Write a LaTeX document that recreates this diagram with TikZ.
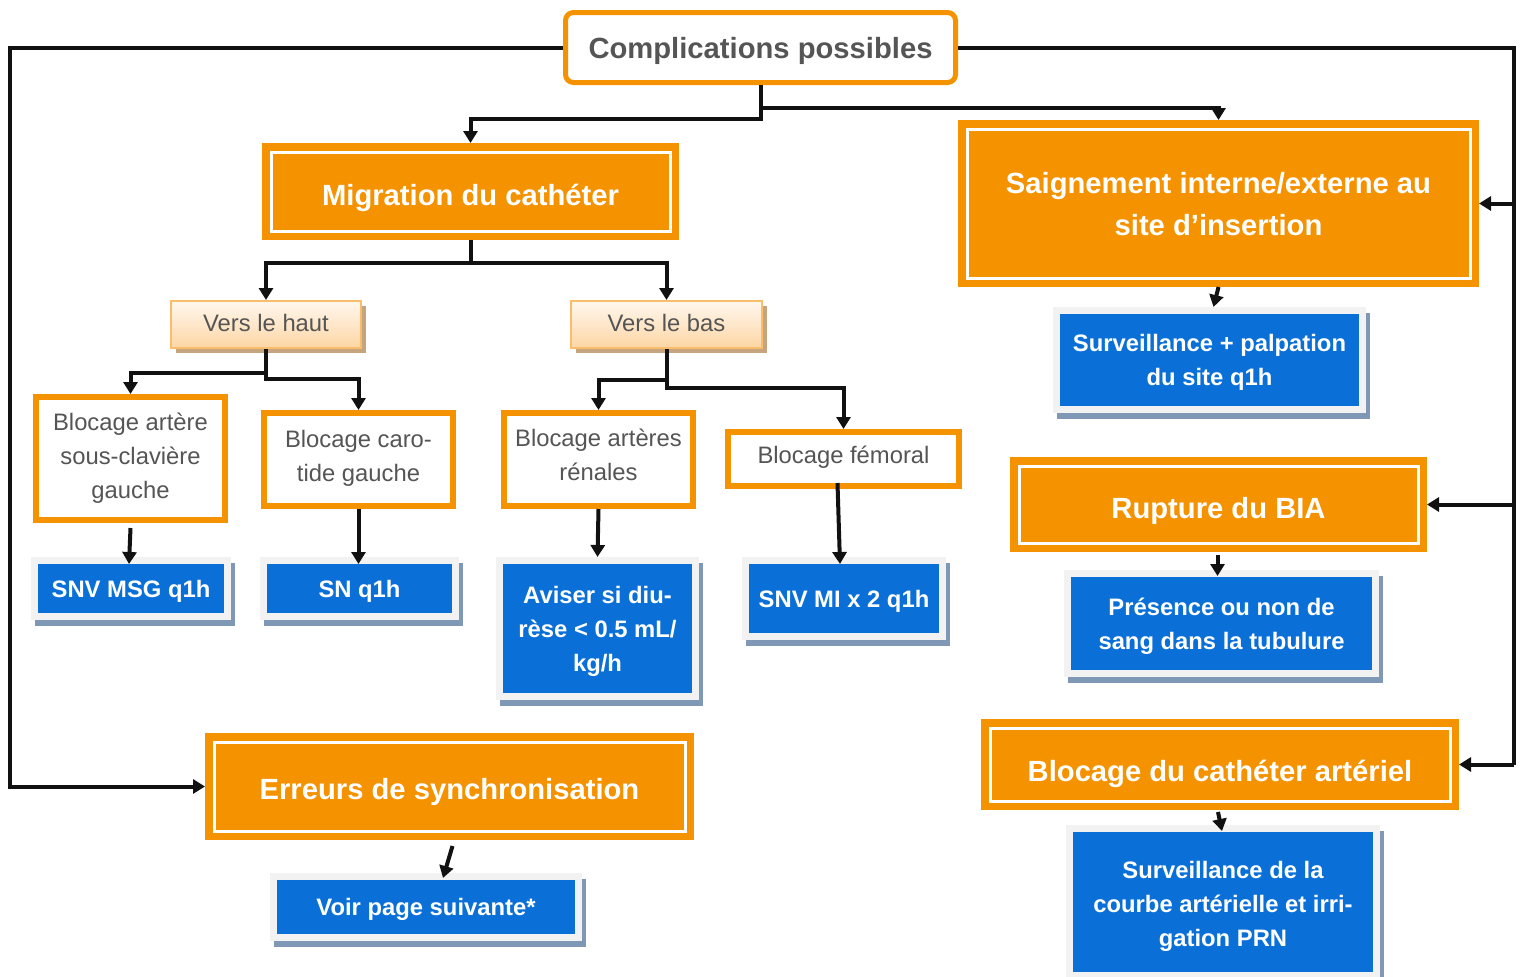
\documentclass[tikz,border=0pt]{standalone}
\usepackage{fontspec}
\setmainfont{Liberation Sans}
\usetikzlibrary{arrows.meta,shadows}
\definecolor{org}{HTML}{F59200}
\definecolor{bluec}{HTML}{0A70D8}
\definecolor{framegrey}{HTML}{F2F2F2}
\definecolor{bshadow}{HTML}{7F98B5}
\definecolor{tgrey}{HTML}{555555}
\definecolor{vtop}{HTML}{FFF7EE}
\definecolor{vbot}{HTML}{FDD6A4}
\definecolor{vborder}{HTML}{F9BE6C}
\definecolor{vshadow}{HTML}{C5A47E}
\definecolor{lc}{HTML}{111111}
\newcommand\bigb{\fontsize{29.2}{42}\selectfont\bfseries}
\newcommand\smb{\fontsize{23.8}{34}\selectfont\bfseries}
\newcommand\smr{\fontsize{23.8}{34}\selectfont}
\newcommand\dn[2]{\raisebox{-#1}[\height][\depth]{\begin{tabular}{@{}c@{}}#2\end{tabular}}}
\begin{document}
\begin{tikzpicture}[x=1pt,y=-1pt,
  obox/.style={fill=org, inner sep=0pt, outer sep=0pt, text=white, font=\bigb,
    path picture={\draw[white,line width=3pt] ([shift={(9pt,-9pt)}]path picture bounding box.north west) rectangle ([shift={(-9pt,9pt)}]path picture bounding box.south east);}},
  wbox/.style={draw=org, line width=6pt, fill=white, inner sep=0pt, text=tgrey, font=\smr},
  vbox/.style={draw=vborder, line width=2pt, top color=vtop, bottom color=vbot, inner sep=0pt, font=\smr, text=tgrey,
    drop shadow={shadow xshift=5pt, shadow yshift=-5pt, fill=vshadow, opacity=1}},
  bbox/.style={fill=framegrey, inner sep=0pt, outer sep=0pt, text=white, font=\smb,
    drop shadow={shadow xshift=4pt, shadow yshift=-6pt, fill=bshadow, opacity=1},
    path picture={\fill[bluec] ([shift={(7pt,-7pt)}]path picture bounding box.north west) rectangle ([shift={(-7pt,7pt)}]path picture bounding box.south east);}},
  conn/.style={draw=lc, line width=4pt},
  arr/.style={conn, -{Triangle[width=14pt,length=12pt]}}
]
\useasboundingbox (0,0) rectangle (1526,977);

% top
\node[draw=org, line width=5pt, fill=white, rounded corners=8pt, minimum width=390pt, minimum height=70pt, inner sep=0pt,
  text=tgrey, font=\bigb] (top) at (760.5,47.5) {\dn{3pt}{Complications possibles}};

% orange double boxes
\node[obox, minimum width=417pt, minimum height=97pt] (mig) at (470.5,191.5) {\dn{6pt}{Migration du cathéter}};
\node[obox, minimum width=521pt, minimum height=167pt] (sai) at (1218.5,203.5) {\dn{3pt}{Saignement interne/externe au\\site d’insertion}};
\node[obox, minimum width=417pt, minimum height=95pt] (rup) at (1218.5,504.5) {\dn{6pt}{Rupture du BIA}};
\node[obox, minimum width=478pt, minimum height=91pt] (blk) at (1220,764.5) {\dn{9pt}{Blocage du cathéter artériel}};
\node[obox, minimum width=489pt, minimum height=107pt] (err) at (449.5,786.5) {\dn{5pt}{Erreurs de synchronisation}};

% vers
\node[vbox, minimum width=190pt, minimum height=47pt] (haut) at (266,324.5) {\dn{0pt}{Vers le haut}};
\node[vbox, minimum width=191pt, minimum height=47pt] (bas) at (666.5,324.5) {\dn{0pt}{Vers le bas}};

% white boxes
\node[wbox, minimum width=189pt, minimum height=123pt] (bart) at (130.5,458.5) {\dn{-1pt}{Blocage artère\\sous-clavière\\gauche}};
\node[wbox, minimum width=189pt, minimum height=93pt] (bcar) at (358.5,459.5) {\dn{-2pt}{Blocage caro-\\tide gauche}};
\node[wbox, minimum width=189pt, minimum height=93pt] (bren) at (598.5,459.5) {\dn{-3pt}{Blocage artères\\rénales}};
\node[wbox, minimum width=231pt, minimum height=54pt] (bfem) at (843.5,459) {\dn{-2pt}{Blocage fémoral}};

% blue boxes
\node[bbox, minimum width=200pt, minimum height=63pt] (snv) at (131,588.5) {\dn{2pt}{SNV MSG q1h}};
\node[bbox, minimum width=199pt, minimum height=63pt] (sn) at (359.5,588.5) {\dn{2pt}{SN q1h}};
\node[bbox, minimum width=203pt, minimum height=143pt] (avi) at (597.5,628.5) {\dn{2pt}{Aviser si diu-\\rèse < 0.5 mL/\\kg/h}};
\node[bbox, minimum width=204pt, minimum height=83pt] (mi) at (844,598.5) {\dn{2pt}{SNV MI x 2 q1h}};
\node[bbox, minimum width=312pt, minimum height=68pt] (voir) at (426,907) {\dn{2pt}{Voir page suivante*}};
\node[bbox, minimum width=313pt, minimum height=106pt] (surv) at (1209.5,360) {\dn{2pt}{Surveillance + palpation\\du site q1h}};
\node[bbox, minimum width=315pt, minimum height=107pt] (pres) at (1221.5,623.5) {\dn{2pt}{Présence ou non de\\sang dans la tubulure}};
\node[bbox, minimum width=314pt, minimum height=154pt] (surv2) at (1223,902) {\dn{4pt}{\fontsize{23.8}{34.5}\selectfont Surveillance de la\\courbe artérielle et irri-\\gation PRN}};

\coordinate (lc) at (10,0);
\coordinate (rc) at (1514,0);

% connectors
\draw[arr] (top.west) -- (top.west -| lc) |- (err.west);
\draw[conn] (top.east) -- (top.east -| rc) -- (blk.east -| rc);
\draw[arr] (sai.east -| rc) -- (sai.east);
\draw[arr] (rup.east -| rc) -- (rup.east);
\draw[arr] (blk.east -| rc) -- (blk.east);

\draw[arr] (top.south) -- ++(0,34) -| (mig.north);
\draw[arr] (top.south) ++(0,23) -| (sai.north);

\draw[arr] (mig.south) -- ++(0,23) -| (haut.north);
\draw[arr] (mig.south) ++(0,23) -| (bas.north);

\draw[arr] (haut.south) -- ++(0,24) -| (bart.north);
\draw[arr] (haut.south) ++(0,23) -- ++(0,7) -| (bcar.north);
\draw[arr] (bas.south) -- ++(0,31) -| (bren.north);
\draw[arr] (bas.south) ++(0,30) -- ++(0,9) -| (bfem.north);

\draw[arr] ([yshift=-5pt]bart.south) -- ([xshift=-2pt,yshift=-7pt]snv.north);
\draw[arr] (bcar.south) -- ([xshift=-1pt,yshift=-7pt]sn.north);
\draw[arr] (bren.south) -- (avi.north);
\draw[arr] ([xshift=-6pt,yshift=6pt]bfem.south) -- ([xshift=-4pt,yshift=-7pt]mi.north);
\draw[arr] ([xshift=3pt,yshift=-6pt]err.south) -- ([xshift=17pt,yshift=-5pt]voir.north);
\draw[arr] (sai.south) -- ([xshift=4pt]surv.north);
\draw[arr] ([xshift=-1pt,yshift=-3pt]rup.south) -- ([xshift=-4pt,yshift=-6pt]pres.north);
\draw[arr] ([xshift=-2pt,yshift=-2pt]blk.south) -- ([xshift=-1pt,yshift=-6pt]surv2.north);
\end{tikzpicture}
\end{document}
